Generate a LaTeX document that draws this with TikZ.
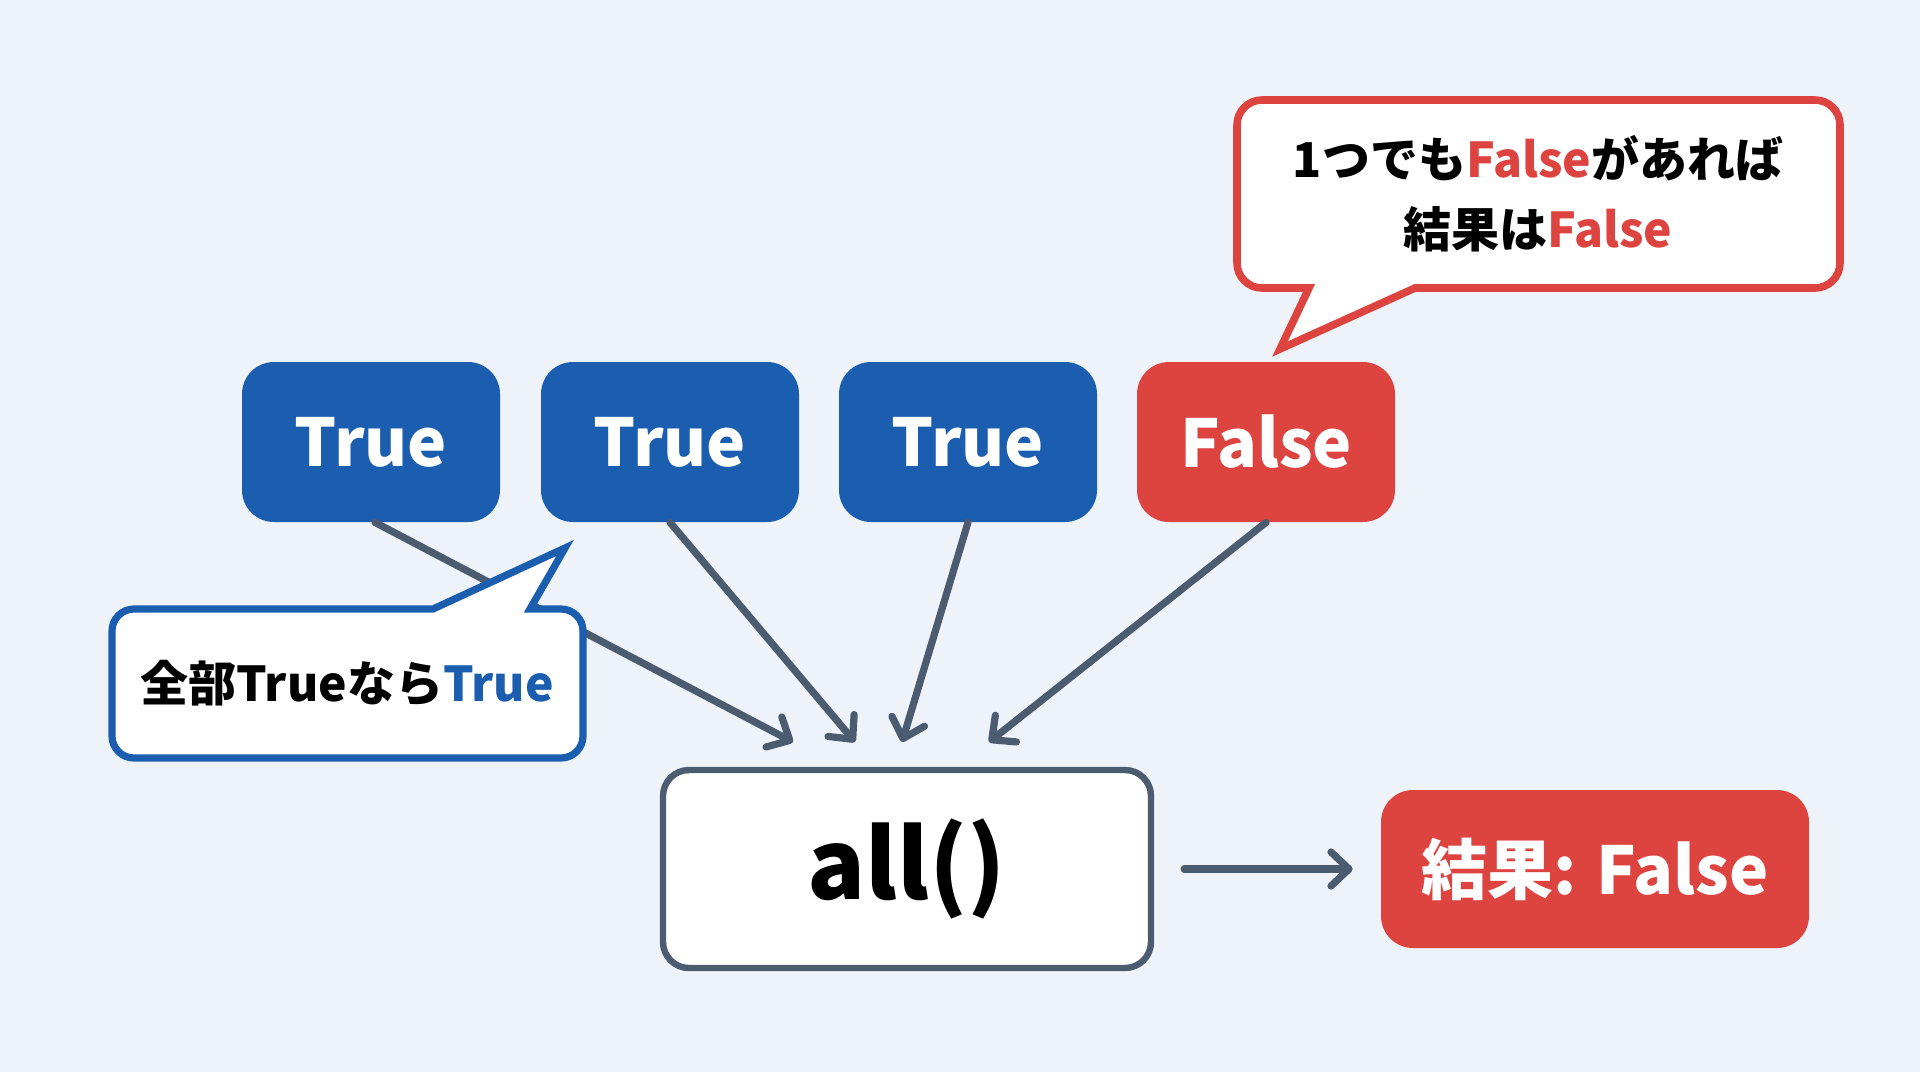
\documentclass[tikz,border=0pt]{standalone}
\usepackage{fontspec}
\setmainfont{Noto Sans CJK JP}
\usetikzlibrary{arrows.meta}
\definecolor{bg}{HTML}{EEF3F9}
\definecolor{tblue}{HTML}{1B5DAF}
\definecolor{fred}{HTML}{DD4440}
\definecolor{edgec}{HTML}{4B5B70}
\begin{document}
\begin{tikzpicture}[x=0.5pt,y=-0.5pt,
  valbox/.style={rounded corners=16pt, minimum width=129pt, minimum height=80pt, inner sep=0pt,
    font=\bfseries\fontsize{33}{40}\selectfont, text=white},
  funcbox/.style={draw=edgec, line width=3.2pt, fill=white, rounded corners=13pt,
    minimum width=244pt, minimum height=99pt, inner sep=0pt, font=\bfseries\fontsize{48}{56}\selectfont},
  resbox/.style={fill=fred, rounded corners=16pt, minimum width=214pt, minimum height=79pt, inner sep=0pt,
    font=\bfseries\fontsize{33}{40}\selectfont, text=white},
  conn/.style={draw=edgec, line width=3.6pt, line cap=round, line join=round,
    -{Straight Barb[length=9pt,width=17pt,line cap=round,line join=round]}},
  calltext/.style={font=\bfseries\fontsize{24}{35}\selectfont, align=center, inner sep=0pt}
]
\fill[bg] (0,0) rectangle (1920,1072);
\useasboundingbox (0,0) rectangle (1920,1072);

\node[valbox, fill=tblue] (t1) at (371,442) {True};
\node[valbox, fill=tblue] (t2) at (670,442) {True};
\node[valbox, fill=tblue] (t3) at (968,442) {True};
\node[valbox, fill=fred] (t4) at (1266,442) {False};

\node[funcbox] (all) at (907,869) {all()};
\node[resbox] (res) at (1595,869) {結果: False};

\coordinate (e1) at (793,742);
\coordinate (e2) at (855,742);
\coordinate (e3) at (902,742);
\coordinate (e4) at (989,742);

\draw[conn] ([xshift=2pt]t1.south) -- (e1);
\draw[conn] (t2.south) -- (e2);
\draw[conn] (t3.south) -- (e3);
\draw[conn] (t4.south) -- (e4);
\draw[conn, shorten <=15pt, shorten >=14pt] (all.east) -- (res.west);

% blue callout
\draw[draw=tblue, fill=white, line width=3.6pt, line join=miter]
  (134,609) -- (433,609) -- (565,548) -- (530,609) -- (561,609)
  arc[start angle=-90, end angle=0, radius=22] -- (583,736)
  arc[start angle=0, end angle=90, radius=22] -- (134,758)
  arc[start angle=90, end angle=180, radius=22] -- (112,631)
  arc[start angle=180, end angle=270, radius=22] -- cycle;
\node[calltext] (cb) at (347,683) {全部Trueなら\textcolor{tblue}{True}};

% red callout
\draw[draw=fred, fill=white, line width=3.8pt, line join=miter]
  (1262,100) -- (1815,100)
  arc[start angle=-90, end angle=0, radius=25] -- (1840,263)
  arc[start angle=0, end angle=90, radius=25] -- (1415,288) -- (1280,349) -- (1309,288) -- (1262,288)
  arc[start angle=90, end angle=180, radius=25] -- (1237,125)
  arc[start angle=180, end angle=270, radius=25] -- cycle;
\node[calltext] (cr) at (1538,194) {1つでも\textcolor{fred}{False}があれば\\結果は\textcolor{fred}{False}};
\end{tikzpicture}
\end{document}
